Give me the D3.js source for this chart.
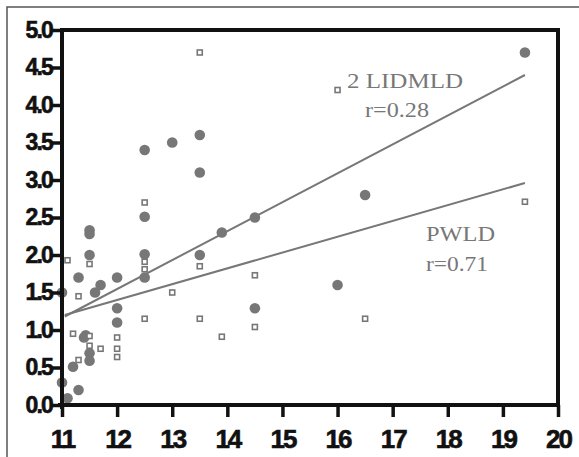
<!DOCTYPE html>
<html>
<head>
<meta charset="utf-8">
<script src="https://cdn.jsdelivr.net/npm/d3@7"></script>
<style>
  body { margin: 0; background: #fff; }
  svg { display: block; }
</style>
</head>
<body>
<svg id="chart" width="579" height="457"></svg>
<script>
// tick values
const xTicks = [11, 12, 13, 14, 15, 16, 17, 18, 19, 20];
const yTicks = [0, 0.5, 1, 1.5, 2, 2.5, 3, 3.5, 4, 4.5, 5];

// filled circles
const circleX = [12.5, 13.0, 13.5, 13.5, 12.5, 19.4, 16.5, 16.0, 14.5, 13.9, 11.5, 11.5, 11.5, 12.5, 12.5, 13.5,
                 11.3, 12.0, 11.7, 11.6, 11.0, 12.0, 12.0, 14.5, 11.4, 11.43, 11.5, 11.5, 11.2, 11.0, 11.1, 11.3];
const circleY = [3.4, 3.5, 3.6, 3.1, 2.51, 4.7, 2.8, 1.6, 2.5, 2.3, 2.33, 2.28, 2.0, 2.01, 1.7, 2.0,
                 1.7, 1.7, 1.6, 1.5, 1.5, 1.29, 1.1, 1.29, 0.9, 0.93, 0.69, 0.59, 0.51, 0.3, 0.09, 0.2];

// open squares
const squareX = [13.5, 12.5, 16.0, 19.4, 16.5, 11.5, 12.5, 12.5, 13.5, 14.5, 13.0, 11.3, 11.1, 12.0, 12.0, 12.0,
                 12.5, 13.5, 11.2, 11.5, 11.5, 11.7, 11.3, 14.5, 13.9];
const squareY = [4.7, 2.7, 4.2, 2.71, 1.15, 1.88, 1.91, 1.81, 1.85, 1.73, 1.5, 1.45, 1.93, 0.9, 0.75, 0.64,
                 1.15, 1.15, 0.95, 0.92, 0.79, 0.75, 0.6, 1.04, 0.91];

// regression lines
const lidmldLine = [[11.05, 1.18], [19.4, 4.4]];
const pwldLine = [[11.05, 1.2], [19.4, 2.96]];

const svg = d3.select('#chart');
const grey = '#777';

const x = d3.scaleLinear().domain([11, 20]).range([62, 558]);
const y = d3.scaleLinear().domain([0, 5]).range([405, 30]);

// outer frame of the figure
svg.append('path')
    .attr('d', 'M7,460 L7,7 L585,7')
    .attr('fill', 'none')
    .attr('stroke', '#555')
    .attr('stroke-width', 1.5);

// regression lines
const line = d3.line().x(d => x(d[0])).y(d => y(d[1]));
svg.selectAll('path.fit')
    .data([lidmldLine, pwldLine])
    .join('path')
    .attr('class', 'fit')
    .attr('d', line)
    .attr('fill', 'none')
    .attr('stroke', grey)
    .attr('stroke-width', 2);

// points
svg.append('g').selectAll('circle')
    .data(circleX.map((v, i) => [v, circleY[i]]))
    .join('circle')
    .attr('cx', d => x(d[0]))
    .attr('cy', d => y(d[1]))
    .attr('r', 5.3)
    .attr('fill', grey);

svg.append('g').selectAll('rect')
    .data(squareX.map((v, i) => [v, squareY[i]]))
    .join('rect')
    .attr('x', d => x(d[0]) - 2.5)
    .attr('y', d => y(d[1]) - 2.5)
    .attr('width', 5)
    .attr('height', 5)
    .attr('fill', '#fff')
    .attr('stroke', grey)
    .attr('stroke-width', 1.6);

// axes
const yAxis = svg.append('g')
    .attr('transform', 'translate(62,0)')
    .call(d3.axisLeft(y).tickValues(yTicks).tickSize(10).tickSizeOuter(0).tickPadding(0)
        .tickFormat(d3.format('.1f')));
yAxis.select('.domain').remove();
yAxis.selectAll('line').attr('stroke', '#111').attr('stroke-width', 3.5);
yAxis.selectAll('text')
    .attr('fill', '#111')
    .attr('stroke', '#111')
    .attr('stroke-width', 0.6)
    .style('font', 'bold 23px "Liberation Sans", Arial, sans-serif')
    .style('letter-spacing', '-1.8px');

const xAxis = svg.append('g')
    .attr('transform', 'translate(0,405)')
    .call(d3.axisBottom(x).tickValues(xTicks).tickSize(12).tickSizeOuter(0).tickFormat(d3.format('d')));
xAxis.select('.domain').remove();
xAxis.selectAll('line').attr('stroke', '#111').attr('stroke-width', 3.5);
xAxis.selectAll('text')
    .attr('y', 43)
    .attr('dy', 0)
    .attr('fill', '#111')
    .attr('stroke', '#111')
    .attr('stroke-width', 0.6)
    .style('font', 'bold 26px "Liberation Sans", Arial, sans-serif')
    .style('letter-spacing', '-2px');

// plot box: left, bottom, top, right
svg.append('path')
    .attr('d', `M${x(11)},${y(0) + 4} L${x(11)},${y(5)} L${x(20)},${y(5)} L${x(20)},${y(0)} L${x(11) - 4},${y(0)}`)
    .attr('fill', 'none')
    .attr('stroke', '#111')
    .attr('stroke-width', 4);

// annotations
const notes = [
    {t: '2 LIDMLD', x: 347, y: 88, w: 116},
    {t: 'r=0.28', x: 365, y: 117, w: 64},
    {t: 'PWLD', x: 426, y: 241, w: 69},
    {t: 'r=0.71', x: 426, y: 271, w: 62}
];
svg.selectAll('text.note')
    .data(notes)
    .join('text')
    .attr('class', 'note')
    .attr('x', d => d.x)
    .attr('y', d => d.y)
    .attr('textLength', d => d.w)
    .attr('lengthAdjust', 'spacingAndGlyphs')
    .attr('fill', grey)
    .style('font', '22px "Liberation Serif", "Times New Roman", serif')
    .text(d => d.t);
</script>
</body>
</html>
